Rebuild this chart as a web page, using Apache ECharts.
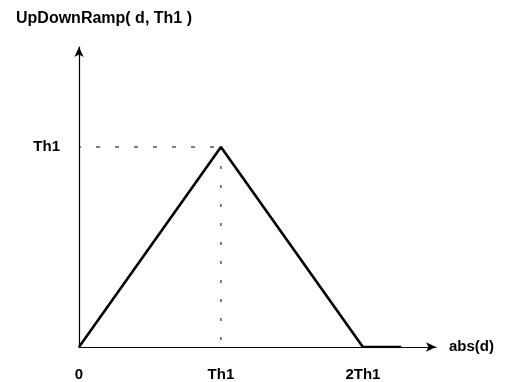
<!DOCTYPE html>
<html><head><meta charset="utf-8">
<script src="https://cdn.jsdelivr.net/npm/echarts@6/dist/echarts.min.js"></script>
<style>html,body{margin:0;padding:0;background:#fff}#c{width:512px;height:382px}</style>
</head><body><div id="c"></div>
<script>
const titleText = "UpDownRamp( d, Th1 )";
const xName = "abs(d)";
const tickValues = [0, 1, 2];
const xTickLabels = ["0", "Th1", "2Th1"];
const yTickLabels = ["", "Th1"];
const rampX = [0, 1, 2, 2.27];
const rampY = [0, 1, 0, 0];
const guideHX = [0, 1];
const guideHY = [1, 1];
const guideVX = [1, 1];
const guideVY = [1, 0];

const font = "'Liberation Sans', Arial, sans-serif";
const chart = echarts.init(document.getElementById('c'));
chart.setOption({
  animation: false,
  backgroundColor: '#fff',
  title: { text: titleText, left: 11, top: 6, textStyle: { fontFamily: font, fontSize: 16, fontWeight: 'bold', color: '#000' } },
  grid: { left: 79, top: 47, right: 76, bottom: 34 },
  xAxis: {
    type: 'value', min: 0, max: 2.515, interval: 1,
    name: xName, nameLocation: 'end', nameGap: 13,
    nameTextStyle: { fontFamily: font, fontSize: 15, fontWeight: 'bold', color: '#000' },
    axisLine: { lineStyle: { color: '#000', width: 1.2 }, symbol: ['none', 'arrow'], symbolSize: [7, 10] },
    axisTick: { show: false }, splitLine: { show: false },
    axisLabel: { margin: 20, showMaxLabel: false, fontFamily: font, fontSize: 15, fontWeight: 'bold', color: '#000',
      formatter: v => { const i = tickValues.indexOf(v); return i >= 0 ? xTickLabels[i] : ''; } }
  },
  yAxis: {
    type: 'value', min: 0, max: 1.5, interval: 1,
    axisLine: { lineStyle: { color: '#000', width: 1.2 }, symbol: ['none', 'arrow'], symbolSize: [7, 10] },
    axisTick: { show: false }, splitLine: { show: false },
    axisLabel: { margin: 19, showMaxLabel: false, fontFamily: font, fontSize: 15, fontWeight: 'bold', color: '#000',
      formatter: v => { const i = tickValues.indexOf(v); return i >= 0 && i < yTickLabels.length ? yTickLabels[i] : ''; } }
  },
  series: [
    { type: 'line', data: guideHX.map((x, i) => [x, guideHY[i]]), symbol: 'none',
      lineStyle: { color: '#000', width: 1, type: [4, 15], dashOffset: 2 } },
    { type: 'line', data: guideVX.map((x, i) => [x, guideVY[i]]), symbol: 'none',
      lineStyle: { color: '#000', width: 1, type: [3, 16] } },
    { type: 'line', data: rampX.map((x, i) => [x, rampY[i]]), symbol: 'none',
      lineStyle: { color: '#000', width: 2.6 } }
  ]
});
</script></body></html>
